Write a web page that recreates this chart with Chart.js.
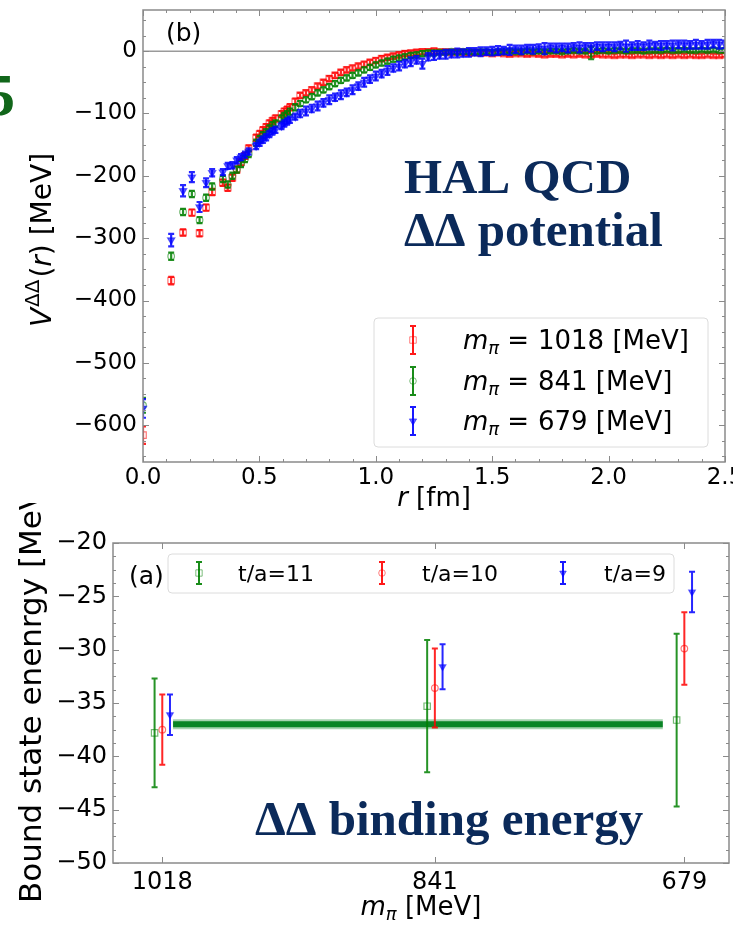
<!DOCTYPE html>
<html>
<head>
<meta charset="utf-8">
<script src="https://cdn.jsdelivr.net/npm/chart.js@4.4.1/dist/chart.umd.min.js"></script>
<style>
html, body { margin: 0; padding: 0; background: #fff; }
#wrap { position: relative; width: 751px; height: 925px; overflow: hidden; }
#boxA { position: absolute; left: 0; top: 0; width: 751px; height: 925px; }
#boxB { position: absolute; left: 0; top: 0; width: 733px; height: 515px; }
</style>
</head>
<body>
<div id="wrap">
  <div id="boxA"><canvas id="bindingChart"></canvas></div>
  <div id="boxB"><canvas id="potentialChart"></canvas></div>
</div>
<script>
// ---- (b) potential data: r [fm] and V(r) [MeV] with errors ----
const rVals = [0.000, 0.121, 0.172, 0.210, 0.243, 0.271, 0.297, 0.343, 0.364, 0.384,
  0.403, 0.421, 0.438, 0.454, 0.486, 0.501, 0.515, 0.529, 0.543, 0.556,
  0.569, 0.595, 0.607, 0.619, 0.631, 0.654, 0.675, 0.700, 0.725, 0.750,
  0.775, 0.800, 0.825, 0.850, 0.875, 0.900, 0.925, 0.950, 0.975, 1.000,
  1.025, 1.050, 1.075, 1.100, 1.125, 1.150, 1.175, 1.200, 1.225, 1.250,
  1.275, 1.300, 1.325, 1.350, 1.375, 1.400, 1.425, 1.450, 1.475, 1.500,
  1.525, 1.550, 1.575, 1.600, 1.625, 1.650, 1.675, 1.700, 1.725, 1.750,
  1.775, 1.800, 1.825, 1.850, 1.875, 1.900, 1.925, 1.950, 1.975, 2.000,
  2.025, 2.050, 2.075, 2.100, 2.125, 2.150, 2.175, 2.200, 2.225, 2.250,
  2.275, 2.300, 2.325, 2.350, 2.375, 2.400, 2.425, 2.450, 2.475, 2.500];

const v1018 = [-616, -368, -291, -259, -292, -251, -226, -211, -219, -203,
  -190, -178, -168, -156, -139, -133, -127, -122, -116, -112,
  -108, -101, -97, -94, -90, -81, -71, -67, -62, -56,
  -50, -44, -39, -34, -30, -27, -24, -21, -18, -15,
  -12, -10, -8, -6, -4, -3, -2, -1, -1, 0,
  -1, -1, -2, -1, -2, -3, -2, -3, -3, -4,
  -3, -4, -5, -4, -4, -5, -4, -5, -6, -5,
  -5, -6, -5, -6, -5, -6, -6, -5, -6, -6,
  -7, -6, -6, -7, -6, -6, -7, -6, -7, -6,
  -7, -6, -7, -6, -7, -7, -6, -7, -7, -6];
const e1018 = [14, 6, 5, 5, 5, 5, 5, 5, 5, 5,
  5, 5, 5, 5, 5, 5, 5, 5, 5, 5,
  5, 5, 5, 5, 5, 5, 4, 4, 4, 4,
  4, 4, 4, 4, 4, 4, 4, 4, 4, 4,
  4, 4, 4, 4, 4, 4, 4, 4, 4, 4,
  3, 3, 3, 3, 3, 3, 3, 3, 3, 3,
  3, 3, 3, 3, 3, 3, 3, 3, 3, 3,
  3, 3, 3, 3, 3, 3, 3, 3, 3, 3,
  3, 3, 3, 3, 3, 3, 3, 3, 3, 3,
  3, 3, 3, 3, 3, 3, 3, 3, 3, 3];

const v841 = [-568, -329, -258, -229, -271, -235, -217, -205, -214, -200,
  -190, -181, -173, -165, -147, -141, -135, -130, -124, -119,
  -116, -108, -104, -101, -97, -90, -84, -78, -73, -67,
  -62, -57, -52, -47, -43, -39, -35, -30, -26, -22,
  -19, -16, -13, -11, -9, -7, -6, -4, -3, -3,
  -2, -2, -1, -2, -1, -1, -2, -1, -1, -2,
  -1, -1, 0, -1, -1, 0, -1, 0, -1, 0,
  0, -1, 0, 1, 0, 0, -3, 0, 1, 0,
  1, 1, 0, 1, 1, 0, 1, 1, 1, 2,
  1, 1, 2, 1, 1, 2, 1, 2, 1, 1];
const e841 = [12, 6, 5, 5, 5, 5, 5, 5, 5, 5,
  5, 5, 5, 5, 5, 5, 5, 5, 5, 5,
  5, 5, 5, 5, 5, 5, 4, 4, 4, 4,
  4, 4, 4, 4, 4, 4, 4, 4, 4, 4,
  4, 4, 4, 4, 4, 4, 4, 4, 4, 4,
  3, 3, 3, 3, 3, 3, 3, 3, 3, 3,
  3, 3, 3, 3, 3, 3, 3, 3, 3, 3,
  3, 3, 3, 3, 3, 3, 10, 3, 3, 3,
  3, 3, 3, 3, 3, 3, 3, 3, 3, 3,
  3, 3, 3, 3, 3, 3, 3, 3, 3, 3];

const v679 = [-573, -303, -224, -202, -250, -211, -195, -194, -184, -183,
  -175, -170, -166, -161, -152, -147, -142, -138, -133, -129,
  -126, -120, -116, -113, -110, -105, -100, -96, -92, -88,
  -83, -78, -74, -70, -66, -62, -56, -50, -45, -40,
  -36, -31, -27, -24, -20, -17, -14, -20, -9, -7,
  -6, -5, -4, -3, -3, -2, -1, -1, 0, 0,
  1, 1, 2, 3, 2, 4, 3, 5, 4, 6,
  5, 6, 5, 7, 6, 7, 6, 8, 7, 8,
  7, 9, 8, 8, 9, 8, 10, 9, 9, 10,
  9, 11, 10, 10, 11, 10, 11, 12, 11, 11];
const e679 = [15, 10, 9, 8, 8, 7, 6, 5, 5, 5,
  5, 5, 5, 5, 5, 5, 5, 5, 5, 5,
  5, 5, 5, 5, 5, 5, 6, 7, 6, 7,
  6, 7, 6, 7, 6, 7, 6, 7, 6, 7,
  6, 7, 6, 7, 6, 7, 6, 8, 6, 7,
  6, 7, 6, 7, 6, 7, 6, 7, 6, 7,
  7, 6, 8, 6, 7, 6, 7, 6, 9, 6,
  7, 6, 7, 6, 8, 6, 7, 6, 7, 6,
  7, 6, 9, 6, 7, 6, 7, 6, 7, 6,
  8, 6, 7, 6, 7, 6, 7, 6, 7, 6];

const potLabels = ['m_\u03c0 = 1018 [MeV]', 'm_\u03c0 = 841 [MeV]', 'm_\u03c0 = 679 [MeV]'];
const rTicks = [0, 0.5, 1.0, 1.5, 2.0, 2.5];
const vTicks = [-600, -500, -400, -300, -200, -100, 0];

// ---- (a) binding energy data ----
const mpiVals = [1018, 841, 679];
const shiftTa = [5, 0, -5];          // horizontal offsets [MeV] for t/a=11, 10, 9
const eTa11 = [-37.8, -35.3, -36.6];
const errTa11 = [5.1, 6.2, 8.1];
const eTa10 = [-37.5, -33.6, -29.9];
const errTa10 = [3.3, 3.7, 3.4];
const eTa9 = [-36.1, -31.6, -24.6];
const errTa9 = [1.9, 2.1, 1.9];
const bandX = [1011, 693];
const bandY = [-37.0, -37.0];
const taLabels = ['t/a=11', 't/a=10', 't/a=9'];
const bTicks = [-50, -45, -40, -35, -30, -25, -20];

const RED = 'rgba(255,0,0,', GREEN = 'rgba(0,128,0,', BLUE = 'rgba(0,0,255,';
const NAVY = '#0b2a5a';
const AXIS = '#8a8a8a';
const minus = v => v < 0 ? '\u2212' + Math.abs(v) : String(v);

// error bars drawn right before each dataset's points
const errorBars = {
  id: 'errorBars',
  beforeDatasetDraw(chart, args) {
    const ds = chart.data.datasets[args.index];
    if (!ds.errors) return;
    const { ctx, chartArea: a } = chart;
    const ys = chart.scales.y;
    ctx.save();
    ctx.beginPath();
    ctx.rect(a.left, a.top, a.right - a.left, a.bottom - a.top);
    ctx.clip();
    ctx.strokeStyle = ds.errColor;
    ctx.lineWidth = ds.errWidth;
    args.meta.data.forEach((pt, i) => {
      const v = ds.data[i].y, e = ds.errors[i];
      const y0 = ys.getPixelForValue(v - e), y1 = ys.getPixelForValue(v + e);
      ctx.beginPath();
      ctx.moveTo(pt.x, y0); ctx.lineTo(pt.x, y1);
      ctx.moveTo(pt.x - ds.cap, y0); ctx.lineTo(pt.x + ds.cap, y0);
      ctx.moveTo(pt.x - ds.cap, y1); ctx.lineTo(pt.x + ds.cap, y1);
      ctx.stroke();
    });
    ctx.restore();
  }
};

// matplotlib style box with inward ticks on all sides
function makeFrame(cfg) {
  return {
    id: 'frame',
    beforeDraw(chart) {
      if (cfg.white) {
        const c = chart.ctx;
        c.save(); c.fillStyle = '#fff'; c.fillRect(0, 0, cfg.white[0], cfg.white[1]); c.restore();
      }
    },
    beforeDatasetsDraw(chart) {
      if (cfg.zeroLine === undefined) return;
      const { ctx, chartArea: a, scales: { y } } = chart;
      const p = y.getPixelForValue(cfg.zeroLine);
      ctx.save();
      ctx.strokeStyle = '#9a9a9a'; ctx.lineWidth = 1.5;
      ctx.beginPath(); ctx.moveTo(a.left, p); ctx.lineTo(a.right, p); ctx.stroke();
      ctx.restore();
    },
    afterDraw(chart) {
      const { ctx, chartArea: a, scales: { x, y } } = chart;
      ctx.save();
      ctx.strokeStyle = AXIS;
      ctx.lineWidth = 1;
      const seg = (x0, y0, x1, y1) => { ctx.beginPath(); ctx.moveTo(x0, y0); ctx.lineTo(x1, y1); ctx.stroke(); };
      const xt = (vals, len) => vals.forEach(v => {
        const p = Math.round(x.getPixelForValue(v)) + 0.5;
        seg(p, a.bottom, p, a.bottom - len); seg(p, a.top, p, a.top + len);
      });
      const yt = (vals, len) => vals.forEach(v => {
        const p = Math.round(y.getPixelForValue(v)) + 0.5;
        seg(a.left, p, a.left + len, p); seg(a.right, p, a.right - len, p);
      });
      xt(cfg.xMajor, 6); xt(cfg.xMinor, 3);
      yt(cfg.yMajor, 6); yt(cfg.yMinor, 3);
      ctx.lineWidth = 1.5;
      ctx.strokeRect(a.left, a.top, a.right - a.left, a.bottom - a.top);
      ctx.restore();
      if (cfg.decor) cfg.decor(chart);
    }
  };
}

// text made of pieces with different fonts
function rich(ctx, parts, x, y, opt) {
  opt = opt || {};
  ctx.save();
  ctx.translate(x, y);
  if (opt.rot) ctx.rotate(opt.rot);
  ctx.fillStyle = opt.color || '#000';
  ctx.textBaseline = 'alphabetic';
  ctx.textAlign = 'left';
  let w = 0;
  parts.forEach(p => { ctx.font = p.f; p.w = ctx.measureText(p.t).width + (p.gap || 0); w += p.w; });
  let cx = opt.align === 'left' ? 0 : -w / 2;
  parts.forEach(p => { ctx.font = p.f; ctx.fillText(p.t, cx, p.dy || 0); cx += p.w; });
  ctx.restore();
}

function legendIcon(ctx, x, y, col, half, cap, style, rot, rad, filled) {
  ctx.save();
  ctx.strokeStyle = col + '0.9)';
  ctx.lineWidth = 2;
  ctx.beginPath();
  ctx.moveTo(x, y - half); ctx.lineTo(x, y + half);
  ctx.moveTo(x - cap, y - half); ctx.lineTo(x + cap, y - half);
  ctx.moveTo(x - cap, y + half); ctx.lineTo(x + cap, y + half);
  ctx.stroke();
  ctx.strokeStyle = col + '0.5)';
  ctx.fillStyle = filled ? col + '0.6)' : 'rgba(0,0,0,0)';
  ctx.lineWidth = 1;
  Chart.helpers.drawPoint(ctx, { pointStyle: style, radius: rad, rotation: rot, borderWidth: 1 }, x, y);
  ctx.restore();
}

function roundBox(ctx, x0, y0, x1, y1) {
  ctx.save();
  ctx.fillStyle = 'rgba(255,255,255,0.85)';
  ctx.strokeStyle = '#dcdcdc';
  ctx.lineWidth = 1;
  ctx.beginPath();
  ctx.roundRect(x0, y0, x1 - x0, y1 - y0, 4);
  ctx.fill(); ctx.stroke();
  ctx.restore();
}

function errSet(label, xs, ys, errs, col, style, rad, rot, filled, order, cap, ew) {
  return {
    label: label,
    data: xs.map((v, i) => ({ x: v, y: ys[i] })),
    errors: errs,
    errColor: col + '0.85)',
    errWidth: ew,
    cap: cap,
    pointStyle: style,
    pointRadius: rad,
    pointRotation: rot,
    pointBorderWidth: 1.2,
    pointBorderColor: col + '0.55)',
    pointBackgroundColor: filled ? col + '0.6)' : 'rgba(0,0,0,0)',
    showLine: false,
    order: order
  };
}

Chart.defaults.font.family = 'DejaVu Sans';
Chart.defaults.color = '#000';

// minor tick lists
const rMinor = [], vMinor = [], bMinor = [];
for (let i = 0; i <= 25; i++) if (i % 5) rMinor.push(i / 10);
for (let v = -650; v <= 50; v += 25) if (v % 100) vMinor.push(v);
for (let v = -50; v <= -20; v += 1.25) if (v % 5) bMinor.push(v);

// ---------- (b) potential ----------
const ctxP = document.getElementById('potentialChart').getContext('2d');
const potentialChart = new Chart(ctxP, {
  type: 'scatter',
  data: {
    datasets: [
      errSet(potLabels[0], rVals, v1018, e1018, RED, 'rect', 4.6, 0, false, 3, 3, 2.2),
      errSet(potLabels[1], rVals, v841, e841, GREEN, 'circle', 3.3, 0, false, 2, 3, 2.2),
      errSet(potLabels[2], rVals, v679, e679, BLUE, 'triangle', 4.2, 180, true, 1, 3, 2.2)
    ]
  },
  options: {
    responsive: true,
    maintainAspectRatio: false,
    animation: false,
    layout: { padding: { left: 0, top: 10, right: 8, bottom: 0 } },
    plugins: { legend: { display: false }, tooltip: { enabled: false } },
    scales: {
      x: {
        type: 'linear', min: 0, max: 2.5,
        grid: { display: false, drawTicks: false },
        border: { display: false },
        afterBuildTicks: s => { s.ticks = rTicks.map(v => ({ value: v })); },
        afterFit: s => { s.height = 53; s.paddingLeft = 0; s.paddingRight = 0; },
        ticks: { font: { size: 23 }, padding: 2, maxRotation: 0, callback: v => v.toFixed(1) }
      },
      y: {
        type: 'linear', min: -659, max: 66,
        grid: { display: false, drawTicks: false },
        border: { display: false },
        afterBuildTicks: s => { s.ticks = vTicks.map(v => ({ value: v })); },
        afterFit: s => { s.width = 143; s.paddingTop = 0; s.paddingBottom = 0; },
        ticks: { font: { size: 23 }, padding: 6, callback: v => minus(v) }
      }
    }
  },
  plugins: [errorBars, makeFrame({
    white: [733, 503],
    zeroLine: 0,
    xMajor: rTicks, xMinor: rMinor, yMajor: vTicks, yMinor: vMinor,
    decor(chart) {
      const ctx = chart.ctx;
      const F = 'px "DejaVu Sans"';
      // axis titles
      rich(ctx, [
        { t: 'V', f: 'italic 28' + F, gap: 1 },
        { t: '\u0394\u0394', f: '20' + F, dy: -12, gap: 2 },
        { t: '(', f: '28' + F },
        { t: 'r', f: 'italic 28' + F },
        { t: ') [MeV]', f: '28' + F }
      ], 51, 240, { rot: -Math.PI / 2 });
      rich(ctx, [
        { t: 'r', f: 'italic 26' + F },
        { t: ' [fm]', f: '26' + F }
      ], 434, 506);
      // panel tag
      ctx.save();
      ctx.font = '25' + F; ctx.fillStyle = '#000';
      ctx.fillText('(b)', 166, 41);
      // slide annotations
      ctx.fillStyle = NAVY;
      ctx.font = 'bold 49px "Liberation Serif"';
      ctx.fillText('HAL QCD', 404, 193);
      ctx.fillText('\u0394\u0394 potential', 404, 246);
      ctx.fillStyle = '#11661a';
      ctx.font = 'bold 60px "Liberation Serif"';
      ctx.fillText('5', -15, 115);
      ctx.restore();
      // legend
      roundBox(ctx, 374, 318, 708, 447);
      const rows = [340, 381, 421];
      const nums = ['1018', '841', '679'];
      const cols = [RED, GREEN, BLUE];
      const st = [['rect', 0, 4.6, false], ['circle', 0, 3.3, false], ['triangle', 180, 4.2, true]];
      rows.forEach((yy, i) => {
        legendIcon(ctx, 413, yy, cols[i], 14, 3, st[i][0], st[i][1], st[i][2], st[i][3]);
        rich(ctx, [
          { t: 'm', f: 'italic 26' + F },
          { t: '\u03c0', f: 'italic 18' + F, dy: 5, gap: 8 },
          { t: '=', f: '26' + F, gap: 9 },
          { t: nums[i] + ' [MeV]', f: '26' + F }
        ], 463, yy + 9, { align: 'left' });
      });
    }
  })]
});

// ---------- (a) binding energy ----------
const ctxA = document.getElementById('bindingChart').getContext('2d');
const shifted = k => mpiVals.map(m => m + shiftTa[k]);
const bandSet = (w, alpha) => ({
  label: 'band',
  type: 'line',
  data: bandX.map((v, i) => ({ x: v, y: bandY[i] })),
  borderColor: 'rgba(0,128,30,' + alpha + ')',
  borderWidth: w,
  pointRadius: 0,
  order: 4
});
const bindingChart = new Chart(ctxA, {
  type: 'scatter',
  data: {
    datasets: [
      bandSet(10, 0.35),
      bandSet(6, 0.95),
      errSet(taLabels[0], shifted(0), eTa11, errTa11, GREEN, 'rect', 4.5, 0, false, 3, 3, 2),
      errSet(taLabels[1], shifted(1), eTa10, errTa10, RED, 'circle', 3.3, 0, false, 2, 3, 2),
      errSet(taLabels[2], shifted(2), eTa9, errTa9, BLUE, 'triangle', 3.8, 180, true, 1, 3, 2)
    ]
  },
  options: {
    responsive: true,
    maintainAspectRatio: false,
    animation: false,
    layout: { padding: { left: 0, top: 543, right: 22, bottom: 0 } },
    plugins: { legend: { display: false }, tooltip: { enabled: false } },
    scales: {
      x: {
        type: 'linear', min: 650, max: 1050, reverse: true,
        grid: { display: false, drawTicks: false },
        border: { display: false },
        afterBuildTicks: s => { s.ticks = mpiVals.map(v => ({ value: v })); },
        afterFit: s => { s.height = 62; s.paddingLeft = 0; s.paddingRight = 0; },
        ticks: { font: { size: 24 }, padding: 5, maxRotation: 0, callback: v => String(v) }
      },
      y: {
        type: 'linear', min: -50, max: -20,
        grid: { display: false, drawTicks: false },
        border: { display: false },
        afterBuildTicks: s => { s.ticks = bTicks.map(v => ({ value: v })); },
        afterFit: s => { s.width = 113; s.paddingTop = 0; s.paddingBottom = 0; },
        ticks: { font: { size: 24 }, padding: 6, callback: v => minus(v) }
      }
    }
  },
  plugins: [errorBars, makeFrame({
    xMajor: mpiVals, xMinor: [], yMajor: bTicks, yMinor: bMinor,
    decor(chart) {
      const ctx = chart.ctx;
      const F = 'px "DejaVu Sans"';
      rich(ctx, [{ t: 'Bound state enenrgy [MeV]', f: '31' + F }], 41, 903, { rot: -Math.PI / 2, align: 'left' });
      rich(ctx, [
        { t: 'm', f: 'italic 26' + F },
        { t: '\u03c0', f: 'italic 18' + F, dy: 5 },
        { t: ' [MeV]', f: '26' + F }
      ], 421, 915);
      ctx.save();
      ctx.font = '25' + F; ctx.fillStyle = '#000';
      ctx.fillText('(a)', 129, 584);
      ctx.fillStyle = NAVY;
      ctx.font = 'bold 49px "Liberation Serif"';
      ctx.fillText('\u0394\u0394 binding energy', 255, 835);
      ctx.restore();
      // legend
      roundBox(ctx, 168, 554, 674, 593);
      const icons = [199, 382, 563], texts = [238, 422, 604];
      const cols = [GREEN, RED, BLUE];
      const st = [['rect', 0, 4.5, false], ['circle', 0, 3.3, false], ['triangle', 180, 3.8, true]];
      taLabels.forEach((t, i) => {
        legendIcon(ctx, icons[i], 573, cols[i], 11, 3, st[i][0], st[i][1], st[i][2], st[i][3]);
        rich(ctx, [{ t: t, f: '22' + F }], texts[i], 581, { align: 'left' });
      });
    }
  })]
});
</script>
</body>
</html>
